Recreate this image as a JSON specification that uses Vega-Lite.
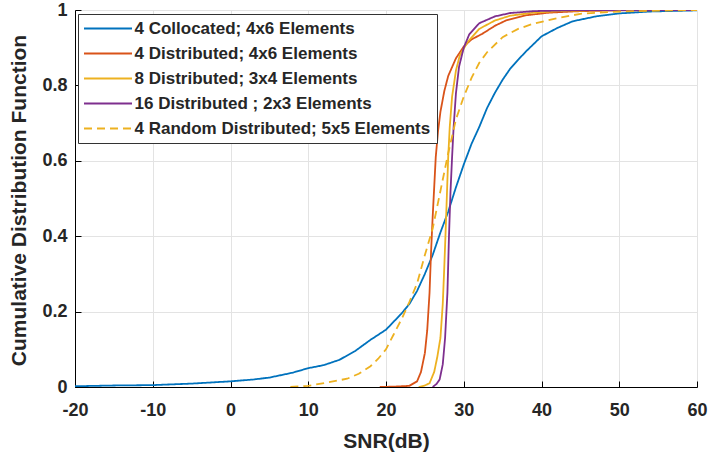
{
  "$schema": "https://vega.github.io/schema/vega-lite/v6.json",
  "width": 622,
  "height": 377,
  "autosize": {"type": "none"},
  "padding": {"left": 75, "top": 10, "right": 11, "bottom": 72},
  "background": "white",
  "config": {
    "view": {"stroke": null},
    "font": "Liberation Sans"
  },
  "datasets": {
    "cdf": [
      {"series": "4 Collocated; 4x6 Elements", "snr": -20, "cdf": 0.002},
      {"series": "4 Collocated; 4x6 Elements", "snr": -15, "cdf": 0.004},
      {"series": "4 Collocated; 4x6 Elements", "snr": -10, "cdf": 0.005},
      {"series": "4 Collocated; 4x6 Elements", "snr": -5, "cdf": 0.009},
      {"series": "4 Collocated; 4x6 Elements", "snr": 0, "cdf": 0.015},
      {"series": "4 Collocated; 4x6 Elements", "snr": 3, "cdf": 0.02},
      {"series": "4 Collocated; 4x6 Elements", "snr": 5, "cdf": 0.025},
      {"series": "4 Collocated; 4x6 Elements", "snr": 8, "cdf": 0.038},
      {"series": "4 Collocated; 4x6 Elements", "snr": 10, "cdf": 0.05},
      {"series": "4 Collocated; 4x6 Elements", "snr": 12, "cdf": 0.058},
      {"series": "4 Collocated; 4x6 Elements", "snr": 14, "cdf": 0.072},
      {"series": "4 Collocated; 4x6 Elements", "snr": 16, "cdf": 0.095},
      {"series": "4 Collocated; 4x6 Elements", "snr": 17, "cdf": 0.11},
      {"series": "4 Collocated; 4x6 Elements", "snr": 18, "cdf": 0.125},
      {"series": "4 Collocated; 4x6 Elements", "snr": 20, "cdf": 0.152},
      {"series": "4 Collocated; 4x6 Elements", "snr": 22, "cdf": 0.195},
      {"series": "4 Collocated; 4x6 Elements", "snr": 23, "cdf": 0.22},
      {"series": "4 Collocated; 4x6 Elements", "snr": 24, "cdf": 0.255},
      {"series": "4 Collocated; 4x6 Elements", "snr": 25, "cdf": 0.3},
      {"series": "4 Collocated; 4x6 Elements", "snr": 26, "cdf": 0.35},
      {"series": "4 Collocated; 4x6 Elements", "snr": 27, "cdf": 0.41},
      {"series": "4 Collocated; 4x6 Elements", "snr": 28, "cdf": 0.465},
      {"series": "4 Collocated; 4x6 Elements", "snr": 29, "cdf": 0.53},
      {"series": "4 Collocated; 4x6 Elements", "snr": 30, "cdf": 0.59},
      {"series": "4 Collocated; 4x6 Elements", "snr": 31, "cdf": 0.645},
      {"series": "4 Collocated; 4x6 Elements", "snr": 32, "cdf": 0.69},
      {"series": "4 Collocated; 4x6 Elements", "snr": 33, "cdf": 0.74},
      {"series": "4 Collocated; 4x6 Elements", "snr": 34, "cdf": 0.78},
      {"series": "4 Collocated; 4x6 Elements", "snr": 35, "cdf": 0.815},
      {"series": "4 Collocated; 4x6 Elements", "snr": 36, "cdf": 0.845},
      {"series": "4 Collocated; 4x6 Elements", "snr": 37, "cdf": 0.868},
      {"series": "4 Collocated; 4x6 Elements", "snr": 38, "cdf": 0.89},
      {"series": "4 Collocated; 4x6 Elements", "snr": 39, "cdf": 0.91},
      {"series": "4 Collocated; 4x6 Elements", "snr": 40, "cdf": 0.93},
      {"series": "4 Collocated; 4x6 Elements", "snr": 42, "cdf": 0.952},
      {"series": "4 Collocated; 4x6 Elements", "snr": 44, "cdf": 0.97},
      {"series": "4 Collocated; 4x6 Elements", "snr": 47, "cdf": 0.983},
      {"series": "4 Collocated; 4x6 Elements", "snr": 50, "cdf": 0.991},
      {"series": "4 Collocated; 4x6 Elements", "snr": 54, "cdf": 0.996},
      {"series": "4 Collocated; 4x6 Elements", "snr": 60, "cdf": 0.999},

      {"series": "4 Distributed; 4x6 Elements", "snr": 19.2, "cdf": 0},
      {"series": "4 Distributed; 4x6 Elements", "snr": 21, "cdf": 0.001},
      {"series": "4 Distributed; 4x6 Elements", "snr": 23, "cdf": 0.003},
      {"series": "4 Distributed; 4x6 Elements", "snr": 24, "cdf": 0.015},
      {"series": "4 Distributed; 4x6 Elements", "snr": 24.5, "cdf": 0.04},
      {"series": "4 Distributed; 4x6 Elements", "snr": 25, "cdf": 0.09},
      {"series": "4 Distributed; 4x6 Elements", "snr": 25.3, "cdf": 0.15},
      {"series": "4 Distributed; 4x6 Elements", "snr": 25.6, "cdf": 0.25},
      {"series": "4 Distributed; 4x6 Elements", "snr": 25.8, "cdf": 0.36},
      {"series": "4 Distributed; 4x6 Elements", "snr": 26.0, "cdf": 0.45},
      {"series": "4 Distributed; 4x6 Elements", "snr": 26.2, "cdf": 0.53},
      {"series": "4 Distributed; 4x6 Elements", "snr": 26.4, "cdf": 0.61},
      {"series": "4 Distributed; 4x6 Elements", "snr": 26.7, "cdf": 0.68},
      {"series": "4 Distributed; 4x6 Elements", "snr": 27.0, "cdf": 0.73},
      {"series": "4 Distributed; 4x6 Elements", "snr": 27.5, "cdf": 0.785},
      {"series": "4 Distributed; 4x6 Elements", "snr": 28, "cdf": 0.825},
      {"series": "4 Distributed; 4x6 Elements", "snr": 29, "cdf": 0.872},
      {"series": "4 Distributed; 4x6 Elements", "snr": 30, "cdf": 0.903},
      {"series": "4 Distributed; 4x6 Elements", "snr": 31, "cdf": 0.922},
      {"series": "4 Distributed; 4x6 Elements", "snr": 32.4, "cdf": 0.937},
      {"series": "4 Distributed; 4x6 Elements", "snr": 34, "cdf": 0.958},
      {"series": "4 Distributed; 4x6 Elements", "snr": 35.4, "cdf": 0.972},
      {"series": "4 Distributed; 4x6 Elements", "snr": 38, "cdf": 0.986},
      {"series": "4 Distributed; 4x6 Elements", "snr": 41, "cdf": 0.993},
      {"series": "4 Distributed; 4x6 Elements", "snr": 45, "cdf": 0.997},
      {"series": "4 Distributed; 4x6 Elements", "snr": 50, "cdf": 0.999},
      {"series": "4 Distributed; 4x6 Elements", "snr": 60, "cdf": 1},

      {"series": "8 Distributed; 3x4 Elements", "snr": 24.2, "cdf": 0},
      {"series": "8 Distributed; 3x4 Elements", "snr": 25, "cdf": 0.004},
      {"series": "8 Distributed; 3x4 Elements", "snr": 25.6, "cdf": 0.01},
      {"series": "8 Distributed; 3x4 Elements", "snr": 26.2, "cdf": 0.04},
      {"series": "8 Distributed; 3x4 Elements", "snr": 26.6, "cdf": 0.08},
      {"series": "8 Distributed; 3x4 Elements", "snr": 27.0, "cdf": 0.13},
      {"series": "8 Distributed; 3x4 Elements", "snr": 27.3, "cdf": 0.22},
      {"series": "8 Distributed; 3x4 Elements", "snr": 27.5, "cdf": 0.32},
      {"series": "8 Distributed; 3x4 Elements", "snr": 27.7, "cdf": 0.43},
      {"series": "8 Distributed; 3x4 Elements", "snr": 27.85, "cdf": 0.52},
      {"series": "8 Distributed; 3x4 Elements", "snr": 28.0, "cdf": 0.61},
      {"series": "8 Distributed; 3x4 Elements", "snr": 28.2, "cdf": 0.69},
      {"series": "8 Distributed; 3x4 Elements", "snr": 28.5, "cdf": 0.77},
      {"series": "8 Distributed; 3x4 Elements", "snr": 29, "cdf": 0.84},
      {"series": "8 Distributed; 3x4 Elements", "snr": 29.5, "cdf": 0.88},
      {"series": "8 Distributed; 3x4 Elements", "snr": 30.5, "cdf": 0.915},
      {"series": "8 Distributed; 3x4 Elements", "snr": 32, "cdf": 0.95},
      {"series": "8 Distributed; 3x4 Elements", "snr": 34, "cdf": 0.972},
      {"series": "8 Distributed; 3x4 Elements", "snr": 36, "cdf": 0.985},
      {"series": "8 Distributed; 3x4 Elements", "snr": 39, "cdf": 0.993},
      {"series": "8 Distributed; 3x4 Elements", "snr": 43, "cdf": 0.998},
      {"series": "8 Distributed; 3x4 Elements", "snr": 50, "cdf": 1},
      {"series": "8 Distributed; 3x4 Elements", "snr": 60, "cdf": 1},

      {"series": "16 Distributed ; 2x3 Elements", "snr": 26.0, "cdf": 0},
      {"series": "16 Distributed ; 2x3 Elements", "snr": 26.5, "cdf": 0.008},
      {"series": "16 Distributed ; 2x3 Elements", "snr": 26.9, "cdf": 0.02},
      {"series": "16 Distributed ; 2x3 Elements", "snr": 27.3, "cdf": 0.06},
      {"series": "16 Distributed ; 2x3 Elements", "snr": 27.6, "cdf": 0.13},
      {"series": "16 Distributed ; 2x3 Elements", "snr": 27.9, "cdf": 0.25},
      {"series": "16 Distributed ; 2x3 Elements", "snr": 28.1, "cdf": 0.4},
      {"series": "16 Distributed ; 2x3 Elements", "snr": 28.3, "cdf": 0.52},
      {"series": "16 Distributed ; 2x3 Elements", "snr": 28.5, "cdf": 0.61},
      {"series": "16 Distributed ; 2x3 Elements", "snr": 28.7, "cdf": 0.69},
      {"series": "16 Distributed ; 2x3 Elements", "snr": 29.0, "cdf": 0.78},
      {"series": "16 Distributed ; 2x3 Elements", "snr": 29.4, "cdf": 0.85},
      {"series": "16 Distributed ; 2x3 Elements", "snr": 30, "cdf": 0.9},
      {"series": "16 Distributed ; 2x3 Elements", "snr": 30.7, "cdf": 0.935},
      {"series": "16 Distributed ; 2x3 Elements", "snr": 32, "cdf": 0.965},
      {"series": "16 Distributed ; 2x3 Elements", "snr": 34, "cdf": 0.983},
      {"series": "16 Distributed ; 2x3 Elements", "snr": 36, "cdf": 0.992},
      {"series": "16 Distributed ; 2x3 Elements", "snr": 39, "cdf": 0.997},
      {"series": "16 Distributed ; 2x3 Elements", "snr": 45, "cdf": 1},
      {"series": "16 Distributed ; 2x3 Elements", "snr": 60, "cdf": 1},

      {"series": "4 Random Distributed; 5x5 Elements", "snr": 7.7, "cdf": 0},
      {"series": "4 Random Distributed; 5x5 Elements", "snr": 10, "cdf": 0.003},
      {"series": "4 Random Distributed; 5x5 Elements", "snr": 12.5, "cdf": 0.012},
      {"series": "4 Random Distributed; 5x5 Elements", "snr": 15, "cdf": 0.022},
      {"series": "4 Random Distributed; 5x5 Elements", "snr": 16.5, "cdf": 0.035},
      {"series": "4 Random Distributed; 5x5 Elements", "snr": 18, "cdf": 0.055},
      {"series": "4 Random Distributed; 5x5 Elements", "snr": 19, "cdf": 0.075},
      {"series": "4 Random Distributed; 5x5 Elements", "snr": 20, "cdf": 0.1},
      {"series": "4 Random Distributed; 5x5 Elements", "snr": 21, "cdf": 0.14},
      {"series": "4 Random Distributed; 5x5 Elements", "snr": 22, "cdf": 0.18},
      {"series": "4 Random Distributed; 5x5 Elements", "snr": 23, "cdf": 0.225},
      {"series": "4 Random Distributed; 5x5 Elements", "snr": 24, "cdf": 0.275},
      {"series": "4 Random Distributed; 5x5 Elements", "snr": 25, "cdf": 0.35},
      {"series": "4 Random Distributed; 5x5 Elements", "snr": 26, "cdf": 0.42},
      {"series": "4 Random Distributed; 5x5 Elements", "snr": 27, "cdf": 0.52},
      {"series": "4 Random Distributed; 5x5 Elements", "snr": 28, "cdf": 0.62},
      {"series": "4 Random Distributed; 5x5 Elements", "snr": 29, "cdf": 0.71},
      {"series": "4 Random Distributed; 5x5 Elements", "snr": 30, "cdf": 0.77},
      {"series": "4 Random Distributed; 5x5 Elements", "snr": 31, "cdf": 0.82},
      {"series": "4 Random Distributed; 5x5 Elements", "snr": 32, "cdf": 0.86},
      {"series": "4 Random Distributed; 5x5 Elements", "snr": 33, "cdf": 0.888},
      {"series": "4 Random Distributed; 5x5 Elements", "snr": 35, "cdf": 0.928},
      {"series": "4 Random Distributed; 5x5 Elements", "snr": 37, "cdf": 0.95},
      {"series": "4 Random Distributed; 5x5 Elements", "snr": 39, "cdf": 0.964},
      {"series": "4 Random Distributed; 5x5 Elements", "snr": 42, "cdf": 0.978},
      {"series": "4 Random Distributed; 5x5 Elements", "snr": 45, "cdf": 0.99},
      {"series": "4 Random Distributed; 5x5 Elements", "snr": 50, "cdf": 0.996},
      {"series": "4 Random Distributed; 5x5 Elements", "snr": 60, "cdf": 1}
    ]
  },
  "data": {"name": "cdf"},
  "mark": {"type": "line", "strokeWidth": 1.8, "clip": true},
  "encoding": {
    "x": {
      "field": "snr",
      "type": "quantitative",
      "scale": {"domain": [-20, 60], "nice": false, "zero": false},
      "axis": {
        "title": "SNR(dB)",
        "values": [-20, -10, 0, 10, 20, 30, 40, 50, 60],
        "labelExpr": "datum.value + ''",
        "labelFlush": false,
        "grid": true,
        "gridColor": "#e3e3e3",
        "domainColor": "#000000",
        "tickColor": "#000000",
        "tickSize": -6,
        "labelPadding": 20,
        "labelFontSize": 18,
        "labelFontWeight": "bold",
        "labelColor": "#262626",
        "titleFontSize": 21,
        "titleFontWeight": "bold",
        "titleColor": "#262626",
        "titlePadding": 11
      }
    },
    "y": {
      "field": "cdf",
      "type": "quantitative",
      "scale": {"domain": [0, 1], "nice": false},
      "axis": {
        "title": "Cumulative Distribution Function",
        "values": [0, 0.2, 0.4, 0.6, 0.8, 1],
        "labelExpr": "datum.value + ''",
        "labelFlush": false,
        "grid": true,
        "gridColor": "#e3e3e3",
        "domainColor": "#000000",
        "tickColor": "#000000",
        "tickSize": -6,
        "labelPadding": 14,
        "labelFontSize": 18,
        "labelFontWeight": "bold",
        "labelColor": "#262626",
        "titleFontSize": 21,
        "titleFontWeight": "bold",
        "titleColor": "#262626",
        "titlePadding": 12,
        "titleY": 190
      }
    },
    "color": {
      "field": "series",
      "type": "nominal",
      "sort": null,
      "scale": {
        "domain": ["4 Collocated; 4x6 Elements", "4 Distributed; 4x6 Elements", "8 Distributed; 3x4 Elements", "16 Distributed ; 2x3 Elements", "4 Random Distributed; 5x5 Elements"],
        "range": ["#0072BD", "#D95319", "#EDB120", "#7E2F8E", "#EDB120"]
      },
      "legend": {
        "title": null,
        "orient": "none",
        "legendX": 3,
        "legendY": 4,
        "strokeColor": "#333333",
        "fillColor": "#ffffff",
        "padding": 6,
        "symbolType": "M-4,0H4",
        "symbolSize": 144,
        "symbolOffset": 15.5,
        "symbolStrokeWidth": 2,
        "labelFontSize": 17,
        "labelFontWeight": "bold",
        "labelColor": "#262626",
        "labelLimit": 500,
        "labelOffset": 18,
        "rowPadding": 7
      }
    },
    "strokeDash": {
      "field": "series",
      "type": "nominal",
      "sort": null,
      "scale": {
        "domain": ["4 Collocated; 4x6 Elements", "4 Distributed; 4x6 Elements", "8 Distributed; 3x4 Elements", "16 Distributed ; 2x3 Elements", "4 Random Distributed; 5x5 Elements"],
        "range": [[1, 0], [1, 0], [1, 0], [1, 0], [8, 5]]
      },
      "legend": {
        "title": null,
        "orient": "none",
        "legendX": 3,
        "legendY": 4,
        "strokeColor": "#333333",
        "fillColor": "#ffffff",
        "padding": 6,
        "symbolType": "M-4,0H4",
        "symbolSize": 144,
        "symbolOffset": 15.5,
        "symbolStrokeWidth": 2,
        "labelFontSize": 17,
        "labelFontWeight": "bold",
        "labelColor": "#262626",
        "labelLimit": 500,
        "labelOffset": 18,
        "rowPadding": 7
      }
    }
  }
}
